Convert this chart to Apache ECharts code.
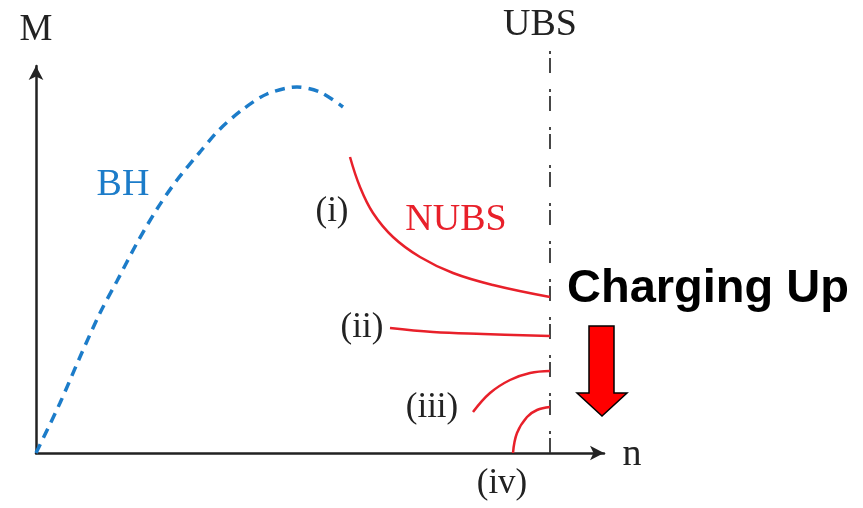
<!DOCTYPE html>
<html>
<head>
<meta charset="utf-8">
<script src="https://cdn.jsdelivr.net/npm/echarts@6/dist/echarts.min.js"></script>
<style>html,body{margin:0;padding:0;background:#fff}#c{width:863px;height:508px}</style>
</head>
<body>
<div id="c"></div>
<script>
// Schematic values (arbitrary units, n along x, M along y)
var bhCurve = [[0,0],[24,50],[44,96],[64,140],[81,172],[101,210],[121,244],[141,273],[164,301],[183,323],[206,343],[231,359],[261,366],[284,361],[307,346]];
var curveI   = [[314,296],[324,266],[337,240],[357,216],[384,196],[417,180],[457,168],[514,156]];
var curveII  = [[354,125],[397,121],[447,119],[514,117]];
var curveIII = [[437,41],[454,60],[474,73],[494,80],[514,82]];
var curveIV  = [[477,0],[481,20],[491,36],[501,43],[514,46]];
var ubsX = 514;
var xMax = 568, yMax = 387;

var chart = echarts.init(document.getElementById('c'), null, {renderer:'canvas'});
var red = '#e8202a', blue = '#1c7cc9';
var serif = '"Liberation Serif","DejaVu Serif",serif';
function lineSeries(data, color, type, width, smooth){
  return {type:'line', data:data, showSymbol:false, smooth:smooth, clip:false,
    lineStyle:{color:color, width:width, type:type}, z:3, silent:true};
}
chart.setOption({
  animation:false,
  backgroundColor:'#fff',
  grid:{left:36, right:259, top:66, bottom:55},
  xAxis:{type:'value', min:0, max:xMax,
    axisLine:{show:true, onZero:false, symbol:['none','arrow'], symbolSize:[11,14], lineStyle:{color:'#222', width:2.5}},
    axisTick:{show:false}, axisLabel:{show:false}, splitLine:{show:false}},
  yAxis:{type:'value', min:0, max:yMax,
    axisLine:{show:true, onZero:false, symbol:['none','arrow'], symbolSize:[11,14], lineStyle:{color:'#222', width:2.5}},
    axisTick:{show:false}, axisLabel:{show:false}, splitLine:{show:false}},
  series:[
    {type:'line', data:[[ubsX,0],[ubsX,yMax+16]], showSymbol:false, clip:false, silent:true,
      lineStyle:{color:'#333', width:1.8, type:[15,4,3,16]}, z:2},
    lineSeries(bhCurve, blue, [10,7], 3.5, 0.3),
    lineSeries(curveI, red, 'solid', 2.5, 0.4),
    lineSeries(curveII, red, 'solid', 2.5, 0.4),
    lineSeries(curveIII, red, 'solid', 2.5, 0.4),
    lineSeries(curveIV, red, 'solid', 2.5, 0.4)
  ],
  graphic:[
    {type:'text', x:36, y:30, style:{text:'M', font:'37px '+serif, fill:'#222', align:'center', verticalAlign:'middle'}},
    {type:'text', x:540, y:25, style:{text:'UBS', font:'38px '+serif, fill:'#222', align:'center', verticalAlign:'middle'}},
    {type:'text', x:632, y:455, style:{text:'n', font:'38px '+serif, fill:'#222', align:'center', verticalAlign:'middle'}},
    {type:'text', x:123, y:185, style:{text:'BH', font:'38px '+serif, fill:blue, align:'center', verticalAlign:'middle'}},
    {type:'text', x:456, y:220, style:{text:'NUBS', font:'38px '+serif, fill:red, align:'center', verticalAlign:'middle'}},
    {type:'text', x:332, y:212, style:{text:'(i)', font:'35px '+serif, fill:'#222', align:'center', verticalAlign:'middle'}},
    {type:'text', x:362, y:328, style:{text:'(ii)', font:'35px '+serif, fill:'#222', align:'center', verticalAlign:'middle'}},
    {type:'text', x:432, y:408, style:{text:'(iii)', font:'35px '+serif, fill:'#222', align:'center', verticalAlign:'middle'}},
    {type:'text', x:502, y:484, style:{text:'(iv)', font:'35px '+serif, fill:'#222', align:'center', verticalAlign:'middle'}},
    {type:'text', x:708, y:289, style:{text:'Charging Up', font:'bold 47px "Liberation Sans",Arial,sans-serif', fill:'#000', align:'center', verticalAlign:'middle'}},
    {type:'polygon', shape:{points:[[589,326],[614,326],[614,393],[627,393],[602,416],[577,393],[589,393]]},
      style:{fill:'#ff0000', stroke:'#000', lineWidth:1.5}}
  ]
});
</script>
</body>
</html>
